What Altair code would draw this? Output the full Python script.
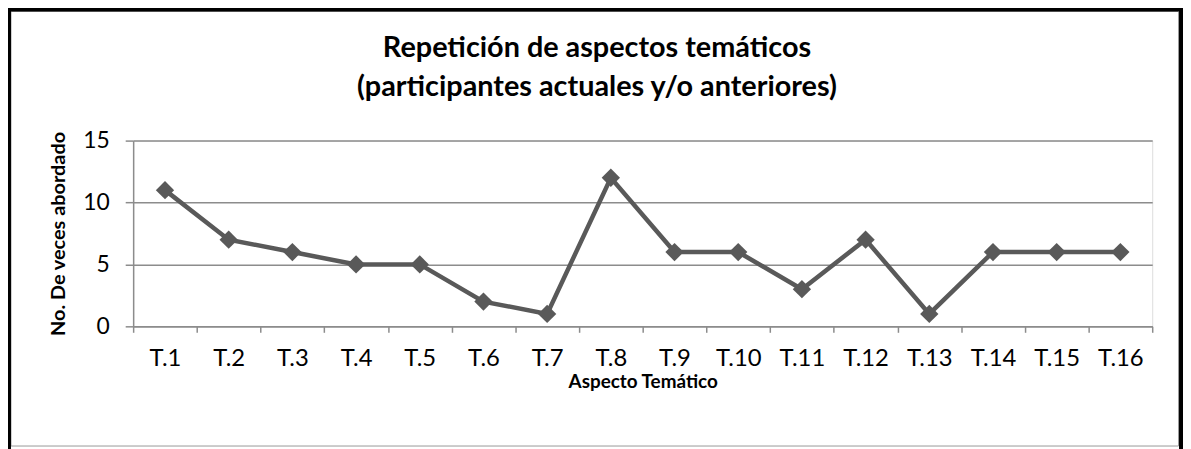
import altair as alt
import pandas as pd

categories = ["T.1", "T.2", "T.3", "T.4", "T.5", "T.6", "T.7", "T.8",
              "T.9", "T.10", "T.11", "T.12", "T.13", "T.14", "T.15", "T.16"]
values = [11, 7, 6, 5, 5, 2, 1, 12, 6, 6, 3, 7, 1, 6, 6, 6]
y_ticks = [0, 5, 10, 15]

df = pd.DataFrame({"cat": categories, "val": values})

FONT = "Lato"
GRAY = "#8c8c8c"
LINE = "#595959"

x_enc = alt.X(
    "cat:N", sort=categories, bandPosition=0.5,
    scale=alt.Scale(type="band", paddingInner=0, paddingOuter=0),
    axis=alt.Axis(
        title="Aspecto Temático", labelAngle=0, tickBand="extent",
        domainColor=GRAY, domainWidth=1.5, tickColor=GRAY, tickWidth=1.5, tickSize=6,
        labelFont=FONT, labelFontSize=24, labelColor="black", labelPadding=14,
        titleFont=FONT, titleFontSize=19, titleFontWeight="bold", titleColor="black",
        titleX=513, titleY=56, titleBaseline="middle", titleAlign="center",
        grid=False,
    ),
)
y_enc = alt.Y(
    "val:Q",
    scale=alt.Scale(domain=[0, 15], nice=False),
    axis=alt.Axis(
        title="No. De veces abordado", values=y_ticks,
        domainColor=GRAY, domainWidth=1.5, tickColor=GRAY, tickWidth=1.5, tickSize=8,
        gridColor=GRAY, gridWidth=1.5,
        labelFont=FONT, labelFontSize=23, labelColor="black", labelPadding=16,
        titleFont=FONT, titleFontSize=20, titleFontWeight="bold", titleColor="black",
        titleX=-75, titleY=93.5, titleBaseline="middle", titleAlign="center",
    ),
)

base = alt.Chart(df)
line = base.mark_line(color=LINE, strokeWidth=4.5).encode(x=x_enc, y=y_enc)
pts = base.mark_point(shape="diamond", filled=True, color=LINE, size=340, opacity=1).encode(x=x_enc, y=y_enc)

one = alt.Chart(pd.DataFrame({"a": [0]}))
frame_gray = one.mark_rect(fill="transparent", stroke="#999999", strokeWidth=1).encode(
    x=alt.value(-123), x2=alt.value(1052.5), y=alt.value(-130), y2=alt.value(307.5))
frame_black = one.mark_rect(fill="transparent", stroke="black", strokeWidth=5).encode(
    x=alt.value(-125.5), x2=alt.value(1055.5), y=alt.value(-132.5), y2=alt.value(330))

chart = alt.layer(frame_gray, frame_black, line, pts).properties(
    width=1026, height=187,
    padding={"left": 126, "top": 132, "right": 31, "bottom": 122},
    autosize=alt.AutoSizeParams(type="none"),
    title=alt.TitleParams(
        text=["Repetición de aspectos temáticos", "(participantes actuales y/o anteriores)"],
        font=FONT, fontSize=29, fontWeight="bold", color="black",
        anchor="middle", dx=-46, offset=-96, lineHeight=39,
    ),
).configure_view(stroke=None).configure(background="white")

chart.save("out.html", embed_options={"renderer": "svg", "actions": False})
